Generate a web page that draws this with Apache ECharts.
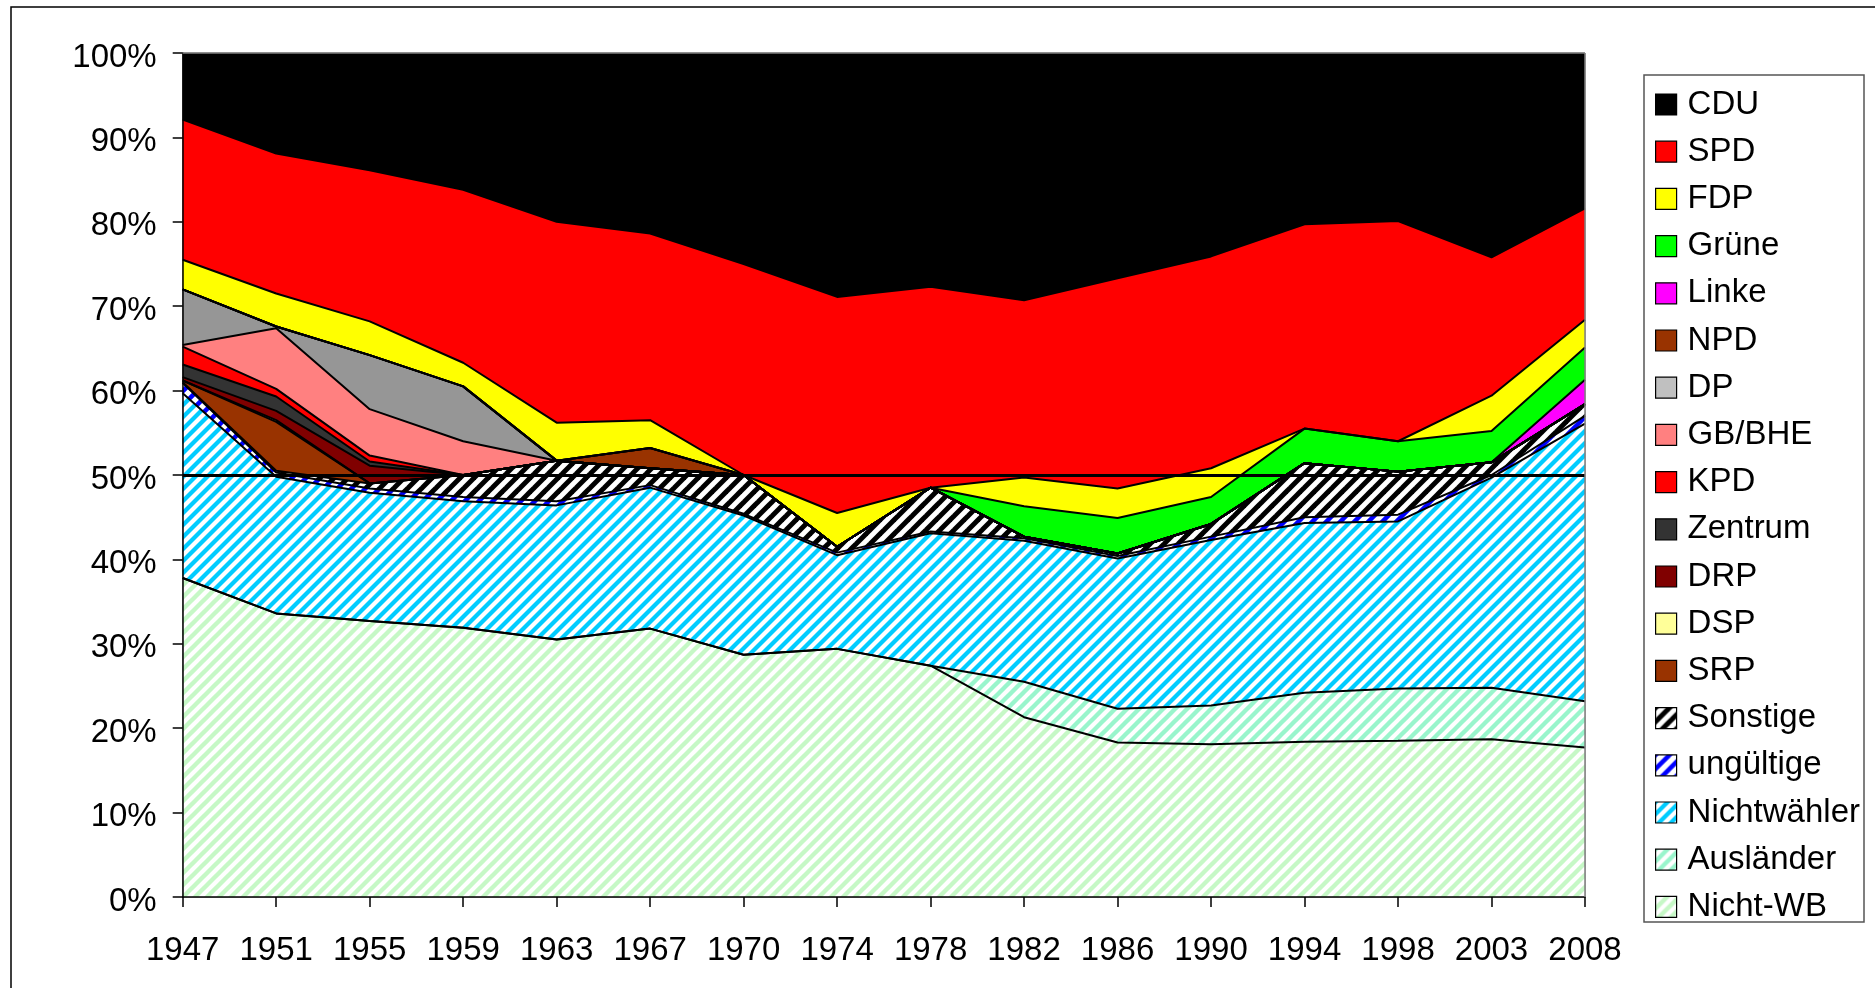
<!DOCTYPE html>
<html>
<head>
<meta charset="utf-8">
<script src="https://cdn.jsdelivr.net/npm/echarts@6/dist/echarts.min.js"></script>
<style>
html,body{margin:0;padding:0;background:#fff;}
#c{width:1875px;height:988px;}
</style>
</head>
<body>
<div id="c"></div>
<script>
// ---- data (percent of total population, stacked bottom to top) ----
const years = ['1947','1951','1955','1959','1963','1967','1970','1974','1978','1982','1986','1990','1994','1998','2003','2008'];
const yTickValues = [0,10,20,30,40,50,60,70,80,90,100];

const nichtWB     = [37.8, 33.6, 32.7, 31.9, 30.5, 31.8, 28.7, 29.4, 27.4, 21.3, 18.3, 18.1, 18.4, 18.5, 18.7, 17.7];
const auslaender  = [0, 0, 0, 0, 0, 0, 0, 0, 0, 4.2, 4.0, 4.6, 5.8, 6.2, 6.1, 5.5];
const nichtwaehler= [21.9, 16.2, 15.2, 15.0, 15.9, 16.7, 16.5, 11.1, 15.7, 16.7, 17.8, 19.6, 20.1, 19.8, 24.9, 32.9];
const ungueltige  = [1.2, 0.5, 0.5, 0.5, 0.5, 0.3, 0.2, 0.3, 0.2, 0.3, 0.3, 0.4, 0.7, 0.8, 0.3, 0.9];
const sonstige    = [0.1, 0.2, 0.6, 2.6, 4.8, 2.0, 4.6, 0.7, 5.2, 0.2, 0.3, 1.5, 6.4, 5.1, 1.5, 1.4];
const srp         = [0.2, 5.8, 0, 0, 0, 0, 0, 0, 0, 0, 0, 0, 0, 0, 0, 0];
const dsp         = [0, 0.2, 0, 0, 0, 0, 0, 0, 0, 0, 0, 0, 0, 0, 0, 0];
const drp         = [0.4, 1.1, 2.1, 0, 0, 0, 0, 0, 0, 0, 0, 0, 0, 0, 0, 0];
const zentrum     = [1.5, 1.7, 0.5, 0, 0, 0, 0, 0, 0, 0, 0, 0, 0, 0, 0, 0];
const kpd         = [2.1, 0.9, 0.7, 0, 0, 0, 0, 0, 0, 0, 0, 0, 0, 0, 0, 0];
const gbbhe       = [0.2, 7.2, 5.5, 4.0, 0, 0, 0, 0, 0, 0, 0, 0, 0, 0, 0, 0];
const dp          = [6.6, 0.2, 6.4, 6.5, 0, 0, 0, 0, 0, 0, 0, 0, 0, 0, 0, 0];
const npd         = [0, 0, 0, 0, 0, 2.4, 0, 0, 0, 0, 0, 0, 0, 0, 0, 0];
const linke       = [0, 0, 0, 0, 0, 0, 0, 0, 0, 0, 0, 0, 0, 0, 0, 2.9];
const gruene      = [0, 0, 0, 0, 0, 0, 0, 0, 0, 3.6, 4.2, 3.2, 4.1, 3.6, 3.7, 3.8];
const fdp         = [3.5, 3.9, 4.0, 2.8, 4.5, 3.3, 0, 4.0, 0, 3.4, 3.5, 3.4, 0, 0, 4.2, 3.3];
const spd         = [16.6, 16.6, 17.9, 20.5, 23.8, 22.1, 25.0, 25.6, 23.8, 21.0, 24.9, 25.1, 24.2, 26.1, 16.4, 13.2];
const cdu         = [7.9, 11.9, 13.9, 16.2, 20.0, 21.4, 25.0, 28.9, 27.7, 29.3, 26.7, 24.1, 20.3, 19.9, 24.2, 18.4];
const referenceLine = 50;

// ---- styling helpers ----
const FONT = '"Liberation Sans", Arial, sans-serif';
function hatch(color, period, width) {
  const c = document.createElement('canvas');
  c.width = period; c.height = period;
  const ctx = c.getContext('2d');
  ctx.fillStyle = '#ffffff';
  ctx.fillRect(0, 0, period, period);
  ctx.strokeStyle = color;
  ctx.lineWidth = width;
  const P = period;
  [0, P, 2 * P].forEach(function (k) {
    ctx.beginPath();
    ctx.moveTo(-P, k + P);
    ctx.lineTo(2 * P, k - 2 * P);
    ctx.stroke();
  });
  return { image: c, repeat: 'repeat' };
}

const layers = [
  { name: 'Nicht-WB',    data: nichtWB,      color: hatch('#C6F8C6', 12, 4.4) },
  { name: 'Ausländer',   data: auslaender,   color: hatch('#99F5CC', 12, 4.4) },
  { name: 'Nichtwähler', data: nichtwaehler, color: hatch('#00CCFF', 12, 4.2) },
  { name: 'ungültige',   data: ungueltige,   color: hatch('#0000FF', 14, 4.5) },
  { name: 'Sonstige',    data: sonstige,     color: hatch('#000000', 14, 5) },
  { name: 'SRP',         data: srp,          color: '#993300' },
  { name: 'DSP',         data: dsp,          color: '#FFFF99' },
  { name: 'DRP',         data: drp,          color: '#800000' },
  { name: 'Zentrum',     data: zentrum,      color: '#333333' },
  { name: 'KPD',         data: kpd,          color: '#FF0000' },
  { name: 'GB/BHE',      data: gbbhe,        color: '#FF8080' },
  { name: 'DP',          data: dp,           color: '#969696', legendColor: '#C0C0C0' },
  { name: 'NPD',         data: npd,          color: '#993300' },
  { name: 'Linke',       data: linke,        color: '#FF00FF' },
  { name: 'Grüne',       data: gruene,       color: '#00FF00' },
  { name: 'FDP',         data: fdp,          color: '#FFFF00' },
  { name: 'SPD',         data: spd,          color: '#FF0000' },
  { name: 'CDU',         data: cdu,          color: '#000000' }
];

const series = [];
layers.forEach(function (l) {
  series.push({
    name: l.name, type: 'line', stack: 'fill', data: l.data,
    symbol: 'none', silent: true, z: 2,
    itemStyle: { color: l.color },
    lineStyle: { width: 0, opacity: 0 },
    areaStyle: { color: l.color, opacity: 1 }
  });
});
layers.forEach(function (l, i) {
  const last = i === layers.length - 1;
  const s = {
    name: '_edge_' + l.name, type: 'line', stack: 'edge', data: l.data,
    symbol: 'none', silent: true, z: 3,
    lineStyle: { color: '#000', width: last ? 0 : 2, opacity: last ? 0 : 1 }
  };
  if (i === 0) {
    s.markLine = {
      silent: true, symbol: 'none', z: 6,
      label: { show: false },
      lineStyle: { color: '#000', width: 3, type: 'solid' },
      data: [{ yAxis: referenceLine }]
    };
  }
  series.push(s);
});

const legendData = layers.slice().reverse().map(function (l) {
  return { name: l.name, itemStyle: { color: l.legendColor || l.color } };
});

const chart = echarts.init(document.getElementById('c'), null, { renderer: 'canvas' });
chart.setOption({
  animation: false,
  backgroundColor: '#fff',
  grid: { left: 182.7, top: 53, right: 290, bottom: 91, show: true, borderColor: '#808080', borderWidth: 1, backgroundColor: '#fff' },
  xAxis: {
    type: 'category', data: years, boundaryGap: false, z: 10,
    axisLine: { show: true, lineStyle: { color: '#000', width: 1.5 } },
    axisTick: { show: true, length: 10, lineStyle: { color: '#000', width: 1.5 } },
    axisLabel: { fontSize: 33, color: '#000', fontFamily: FONT, margin: 37, interval: 0 },
    splitLine: { show: false }
  },
  yAxis: {
    type: 'value', min: yTickValues[0], max: yTickValues[yTickValues.length - 1], interval: 10, z: 10,
    axisLine: { show: true, lineStyle: { color: '#000', width: 1.5 } },
    axisTick: { show: true, length: 10, lineStyle: { color: '#000', width: 1.5 } },
    axisLabel: { formatter: '{value}%', fontSize: 33, color: '#000', fontFamily: FONT, margin: 26, verticalAlign: 'top', lineHeight: 9 },
    splitLine: { show: false }
  },
  legend: {
    orient: 'vertical', left: 1655, top: 88, padding: 0,
    itemWidth: 21, itemHeight: 21, itemGap: 14.2, icon: 'rect',
    itemStyle: { borderColor: '#000', borderWidth: 1.2 },
    textStyle: { fontSize: 33, lineHeight: 32, color: '#000', fontFamily: FONT, padding: [0, 0, 0, 6] },
    selectedMode: false,
    data: legendData
  },
  graphic: [
    { type: 'rect', z: 0, silent: true, shape: { x: 11, y: 7, width: 1900, height: 1000 }, style: { fill: 'none', stroke: '#000', lineWidth: 1.5 } },
    { type: 'rect', z: 0, silent: true, shape: { x: 1644, y: 75, width: 220, height: 847 }, style: { fill: 'none', stroke: '#555', lineWidth: 1.5 } },
    { type: 'line', z: 100, silent: true, shape: { x1: 182.7, y1: 53, x2: 1585, y2: 53 }, style: { stroke: '#808080', lineWidth: 1.5 } },
    { type: 'line', z: 100, silent: true, shape: { x1: 1585, y1: 53, x2: 1585, y2: 897 }, style: { stroke: '#808080', lineWidth: 1.5 } }
  ],
  series: series
});
</script>
</body>
</html>
